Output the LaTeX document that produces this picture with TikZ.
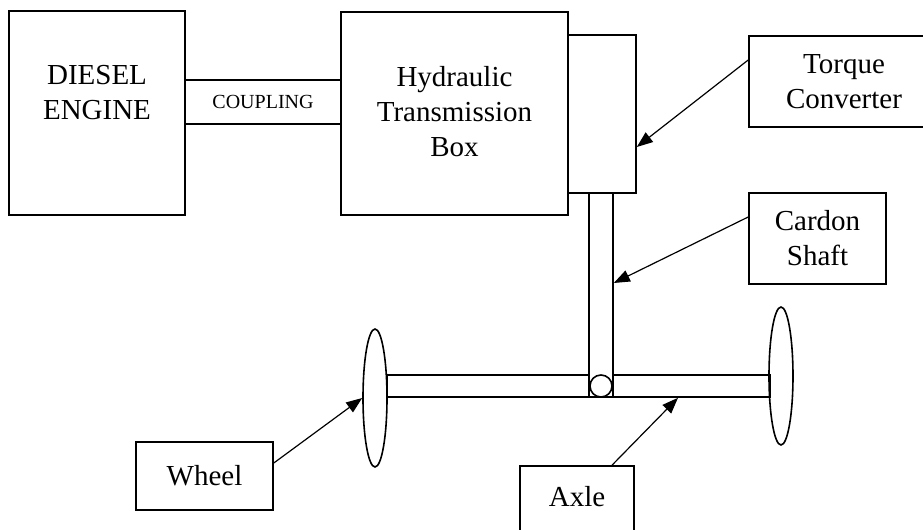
\documentclass[tikz,border=0pt]{standalone}
\usepackage{fontspec}
\setmainfont{Liberation Serif}
\usetikzlibrary{arrows.meta, shapes.geometric}

\begin{document}
\begin{tikzpicture}[x=0.5pt, y=-0.5pt,
  box/.style 2 args={draw, thick, minimum width=#1, minimum height=#2, inner sep=0pt, align=center},
  wheel/.style={draw, thick, ellipse, minimum width=12pt, minimum height=69pt, inner sep=0pt},
  pointer/.style={-{Triangle[length=8pt, width=6pt]}, line width=0.6pt},
  font=\fontsize{14.5}{17.5}\selectfont]
  \clip (0,0) rectangle (923,530);

  % engine and gearbox
  \node[box={88pt}{102pt}, label={[anchor=north, yshift=-24pt, align=center]north:DIESEL\\ENGINE}] (engine) at (97,113) {};
  \node[box={78pt}{22pt}, font=\fontsize{10}{12}\selectfont] (coupling) at (263,102) {COUPLING};
  \node[box={113.5pt}{101.5pt}, label={[anchor=north, yshift=-24pt, align=center]north:Hydraulic\\Transmission\\Box}] (hydbox) at (454.5,113.5) {};
  \node[box={34pt}{79pt}] (tcbox) at (602,114) {};

  % drive line
  \node[box={191.5pt}{11pt}] (axle) at (578.5,386) {};
  \node[box={12pt}{102pt}, fill=white] (shaft) at (601,295) {};
  \node[draw, thick, circle, minimum size=11pt, inner sep=0pt] (joint) at (601,386) {};
  \node[wheel] (lwheel) at (375,398) {};
  \node[wheel] (rwheel) at (781,376) {};

  % labels
  \node[box={95pt}{45.5pt}] (tclabel) at (844,81.5) {Torque\\Converter};
  \node[box={68.5pt}{45.5pt}] (shaftlabel) at (817.5,238.5) {Cardon\\Shaft};
  \node[box={68.5pt}{34pt}] (wheellabel) at (204.5,476) {Wheel};
  \node[box={57pt}{40pt}, label={[anchor=north, yshift=-7pt]north:Axle}] (axlelabel) at (577,506) {};

  \draw[pointer] ([yshift=10.75pt]tclabel.west) -- ([yshift=-16.5pt]tcbox.east);
  \draw[pointer] ([yshift=10.75pt]shaftlabel.west) -- ([yshift=6pt]shaft.east);
  \draw[pointer] ([yshift=6.5pt]wheellabel.east) -- (lwheel.west);
  \draw[pointer] ([xshift=17.5pt]axlelabel.north) -- ([xshift=49.75pt]axle.south);
\end{tikzpicture}
\end{document}
